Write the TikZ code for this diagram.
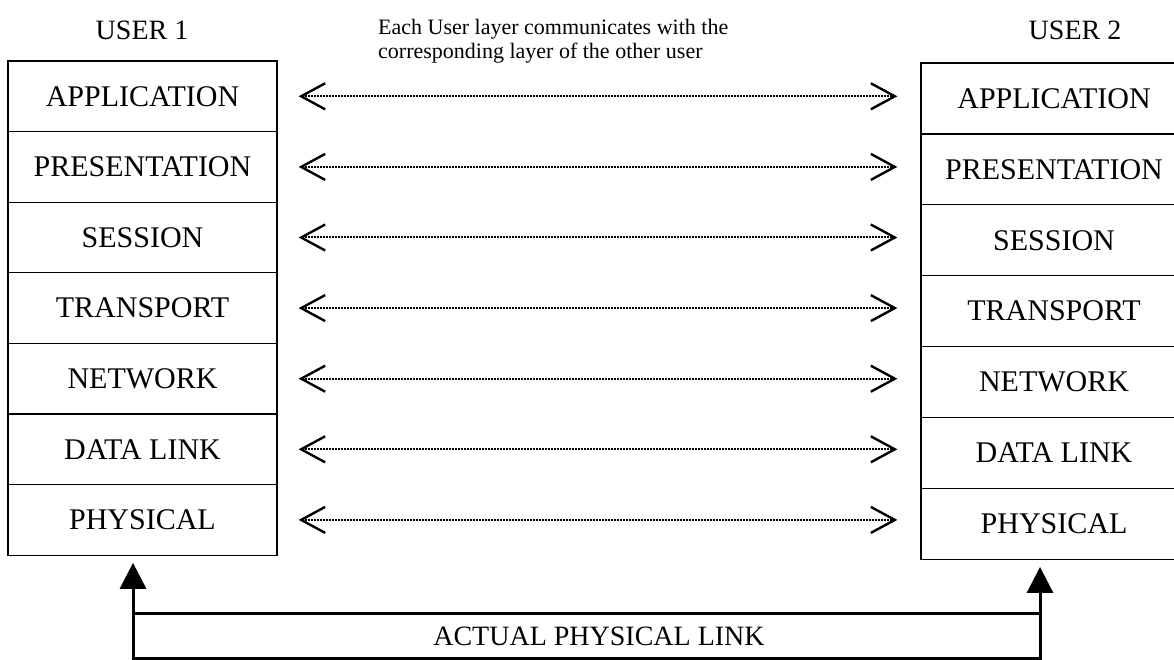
\documentclass[tikz,border=0pt]{standalone}
\usepackage{fontspec}
\setmainfont{Liberation Serif}
\usetikzlibrary{arrows.meta}
\begin{document}
\begin{tikzpicture}[x=1pt,y=-1pt,
  layer/.style={draw, line width=1.3pt, minimum width=269pt, minimum height=70.6pt,
    inner sep=0pt, font=\fontsize{30}{32}\selectfont},
  heading/.style={font=\fontsize{28}{30}\selectfont, inner sep=0pt},
  desc/.style={font=\fontsize{22}{24}\selectfont, inner sep=0pt, anchor=base west},
  peer/.style={{Straight Barb[length=24pt,width=26pt,line width=2.4pt]}-{Straight Barb[length=24pt,width=26pt,line width=2.4pt]},
    line width=2pt, dash pattern=on 1.6pt off 1.4pt},
  link/.style={line width=3pt},
  linkup/.style={link, -{Triangle[length=26pt,width=26pt]}, shorten >=7pt}]
\useasboundingbox (0,0) rectangle (1174,660);
\clip (0,0) rectangle (1174,660);

% headings
\node[heading] (u1) at (142,30) {USER 1};
\node[heading] (u2) at (1075,30) {USER 2};
\node[desc] (d1) at (378,35) {Each User layer communicates with the};
\node[desc] (d2) at (378,59) {corresponding layer of the other user};

% the two protocol stacks and peer-to-peer communication
\foreach \t [count=\i] in {APPLICATION,PRESENTATION,SESSION,TRANSPORT,NETWORK,DATA LINK,PHYSICAL} {
  \node[layer] (L\i) at (142.5,{61+70.6*\i-35.3}) {\t};
  \node[layer, minimum width=266pt, minimum height=70.9pt] (R\i) at (1054,{63+70.9*\i-35.45}) {\t};
  \draw[peer, shorten <=21pt, shorten >=23pt] (L\i.east) -- (R\i.west |- L\i.east);
}

% actual physical link
\coordinate (lb) at (133,662);
\coordinate (rb) at (1040,662);
\coordinate (lt) at (133,613);
\coordinate (rt) at (1040,613);
\coordinate (ll) at (133,658);
\coordinate (rl) at (1040,658);
\draw[linkup] (lb) -- (lb |- L7.south);
\draw[linkup] (rb) -- (rb |- R7.south);
\draw[link] (lt) -- (rt);
\draw[link] (ll) -- (rl);
\node[heading] (plink) at (599,636) {ACTUAL PHYSICAL LINK};
\end{tikzpicture}
\end{document}
